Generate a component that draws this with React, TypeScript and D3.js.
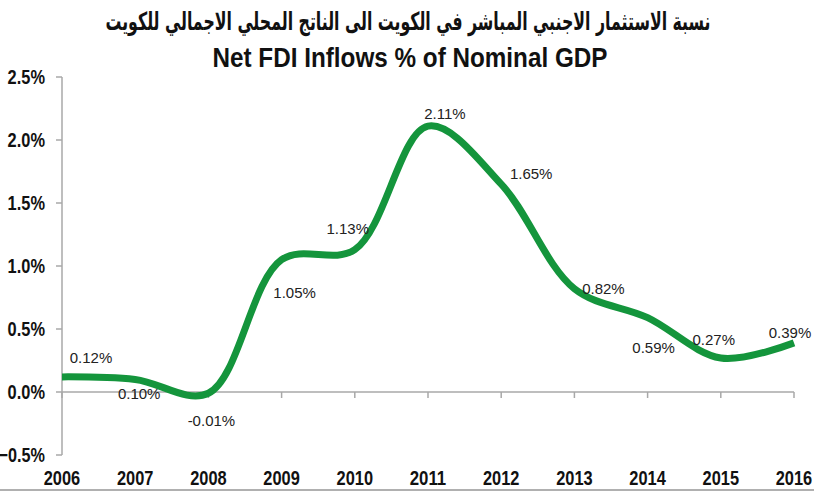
import React from "react";
import * as d3 from "d3";

const years = [2006, 2007, 2008, 2009, 2010, 2011, 2012, 2013, 2014, 2015, 2016];
const fdiShare = [0.12, 0.1, -0.01, 1.05, 1.13, 2.11, 1.65, 0.82, 0.59, 0.27, 0.39];
const valueLabels = ["0.12%", "0.10%", "-0.01%", "1.05%", "1.13%", "2.11%", "1.65%", "0.82%", "0.59%", "0.27%", "0.39%"];
const yTicks = [-0.5, 0, 0.5, 1, 1.5, 2, 2.5];
const titleAr = "نسبة الاستثمار الاجنبي المباشر في الكويت الى الناتج المحلي الاجمالي للكويت";
const titleEn = "Net FDI Inflows % of Nominal GDP";

// label offsets (layout only)
const labelOffsets: [number, number][] = [
  [29, -19], [4, 14], [3, 27], [13, 33], [-7, -21], [17, -12],
  [30, -10], [29, 0], [6, 30], [-7, -18], [-4, -10],
];

const W = 814;
const H = 500;
const sans = "'Liberation Sans', Arial, sans-serif";

// approximate advance widths (em) of Liberation Sans Bold, used to condense text
const adv: Record<string, number> = { ".": 0.278, "%": 0.889, "-": 0.333 };
function narrowLen(s: string, size: number, sx: number) {
  let w = 0;
  for (const c of s) w += adv[c] ?? 0.556;
  return w * size * sx;
}

function NarrowText(props: {
  x: number;
  y: number;
  sx: number;
  size: number;
  anchor: "start" | "middle" | "end";
  dy?: string;
  text: string;
}) {
  return (
    <text
      x={props.x}
      y={props.y}
      textAnchor={props.anchor}
      dy={props.dy}
      fontFamily={sans}
      fontWeight="bold"
      fontSize={props.size}
      fill="#111"
      textLength={narrowLen(props.text, props.size, props.sx)}
      lengthAdjust="spacingAndGlyphs"
    >
      {props.text}
    </text>
  );
}

export default function App() {
  const x = d3.scaleLinear().domain([2006, 2016]).range([62, 794]);
  const y = d3.scaleLinear().domain([-0.5, 2.5]).range([455, 77]);
  const line = d3
    .line<number>()
    .x((_, i) => x(years[i]))
    .y((d) => y(d))
    .curve(d3.curveCatmullRom.alpha(0.5));
  const axisColor = "#a8a8a8";
  return (
    <svg width={W} height={H} style={{ position: "absolute", left: 0, top: 0, background: "#fff" }}>
      <rect x={0} y={0} width={W} height={H} fill="#fff" />
      <text
        x={408}
        y={30}
        textAnchor="middle"
        fontFamily="'DejaVu Sans', 'Noto Sans', sans-serif"
        fontWeight="bold"
        fontSize={25}
        fill="#111"
        direction="rtl"
        textLength={605}
        lengthAdjust="spacingAndGlyphs"
      >
        {titleAr}
      </text>
      <text
        x={410}
        y={67}
        textAnchor="middle"
        fontFamily={sans}
        fontWeight="bold"
        fontSize={28}
        fill="#111"
        textLength={395}
        lengthAdjust="spacingAndGlyphs"
      >
        {titleEn}
      </text>
      {/* y axis */}
      <line x1={x(2006)} x2={x(2006)} y1={y(2.5)} y2={y(-0.5)} stroke={axisColor} strokeWidth={1.5} />
      {yTicks.map((t) => (
        <g key={t}>
          <line x1={x(2006) - 6} x2={x(2006)} y1={y(t)} y2={y(t)} stroke={axisColor} strokeWidth={1.5} />
          <NarrowText x={45} y={y(t)} dy="0.35em" sx={0.82} size={20} anchor="end" text={d3.format(".1f")(t) + "%"} />
        </g>
      ))}
      {/* zero line */}
      <line x1={x(2006)} x2={x(2016)} y1={y(0)} y2={y(0)} stroke={axisColor} strokeWidth={1.5} />
      {years.map((yr) => (
        <g key={yr}>
          <line x1={x(yr)} x2={x(yr)} y1={y(0)} y2={y(0) + 6} stroke={axisColor} strokeWidth={1.5} />
          <NarrowText x={x(yr)} y={485} sx={0.82} size={20} anchor="middle" text={String(yr)} />
        </g>
      ))}
      <path d={line(fdiShare) || ""} fill="none" stroke="#14953c" strokeWidth={7} strokeLinecap="butt" />
      {fdiShare.map((v, i) => (
        <text
          key={i}
          x={x(years[i]) + labelOffsets[i][0]}
          y={y(v) + labelOffsets[i][1]}
          dy="0.35em"
          textAnchor="middle"
          fontFamily={sans}
          fontSize={15}
          fill="#222"
        >
          {valueLabels[i]}
        </text>
      ))}
      <line x1={0} x2={W} y1={490} y2={490} stroke="#b0b0b0" strokeWidth={2} />
    </svg>
  );
}
